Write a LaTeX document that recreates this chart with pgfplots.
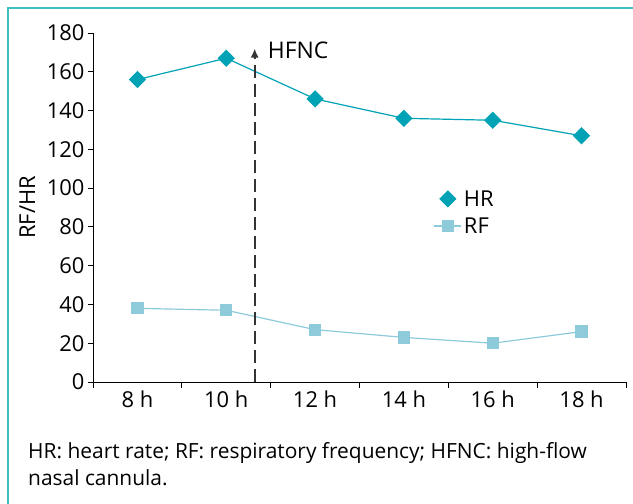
\documentclass[border=0pt]{standalone}
\usepackage{pgfplots}
\pgfplotsset{compat=1.18}
\usepackage{fontspec}
\setmainfont{Open Sans}
\usetikzlibrary{arrows.meta}
\definecolor{hrc}{HTML}{00A3B5}
\definecolor{rfc}{HTML}{8ECBDA}
\definecolor{framec}{HTML}{3DBFC8}
\definecolor{dashc}{HTML}{333333}
\begin{document}
\begin{tikzpicture}[x=1bp,y=1bp]
\useasboundingbox (0,0) rectangle (633,-504);
\draw[framec, line width=1.5bp] (8,-504) -- (8,-8) -- (633,-8);
\begin{axis}[
  at={(93bp,-382bp)}, anchor=south west,
  width=533bp, height=349bp, scale only axis,
  xmin=-0.5, xmax=5.5, ymin=0, ymax=180,
  axis x line*=bottom, axis y line*=left,
  axis line style={black, line width=0.8bp},
  ytick={0,20,...,180},
  xtick={0,...,5},
  xticklabels={8 h,10 h,12 h,14 h,16 h,18 h},
  minor xtick={-0.5,0.5,...,5.5},
  major x tick style={draw=none},
  tick align=outside,
  major tick length=5bp, minor tick length=6bp,
  tick style={black, line width=0.8bp},
  ticklabel style={font=\fontsize{22}{26}\selectfont},
  /pgf/number format/assume math mode=true,
  ylabel={RF/HR},
  ylabel style={font=\fontsize{22}{26}\selectfont, yshift=5bp},
  clip=false,
  legend style={at={(axis cs:3.30,101)}, anchor=north west, draw=none, fill=none,
    font=\fontsize{22}{26}\selectfont, row sep=6bp, cells={anchor=west}},
  legend cell align=left,
]
\addplot[hrc, line width=1.2bp, mark=square*, mark size=5.5bp, mark options={fill=hrc, draw=hrc, rotate=45},
  legend image code/.code={\draw[hrc, fill=hrc, mark=square*, mark size=5.5bp, mark options={rotate=45}] plot coordinates {(13.5bp,0bp)};}]
  coordinates {(0,156) (1,167) (2,146) (3,136) (4,135) (5,127)};
\addlegendentry{HR}
\addplot[rfc, line width=1.2bp, mark=square*, mark size=5.5bp, mark options={fill=rfc, draw=rfc},
  legend image code/.code={\draw[rfc, line width=1.2bp] (0bp,0bp) -- (27bp,0bp); \draw[rfc, fill=rfc, mark=square*, mark size=5.5bp] plot coordinates {(13.5bp,0bp)};}]
  coordinates {(0,38) (1,37) (2,27) (3,23) (4,20) (5,26)};
\addlegendentry{RF}
\draw[dashc, line width=2bp, dash pattern=on 13bp off 6bp, -{Latex[length=9bp,width=8bp]}] (axis cs:1.32,0) -- (axis cs:1.32,172);
\node[anchor=west, font=\fontsize{23}{27}\selectfont] at (axis cs:1.43,171) {HFNC};
\end{axis}
\node[anchor=north west, align=left, font=\fontsize{21}{27}\selectfont, inner sep=0pt] at (28,-442)
  {HR: heart rate; RF: respiratory frequency; HFNC: high-flow\\nasal cannula.};
\end{tikzpicture}
\end{document}
